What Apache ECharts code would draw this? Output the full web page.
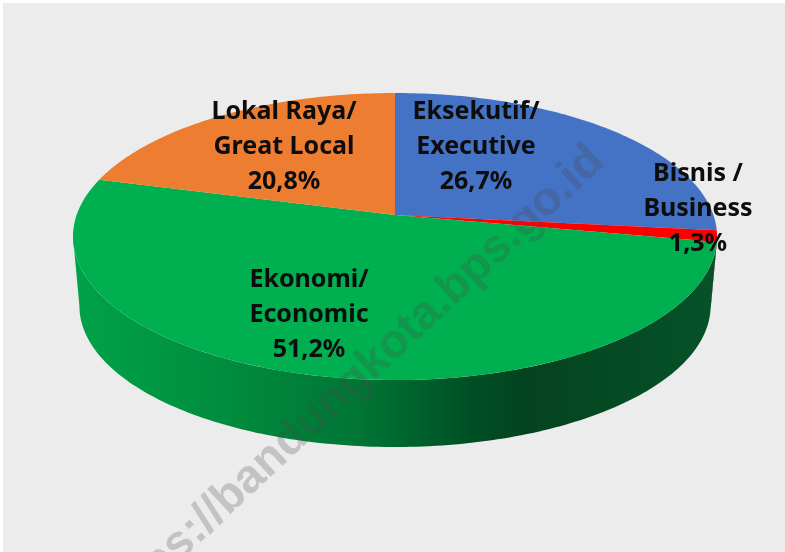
<!DOCTYPE html>
<html>
<head>
<meta charset="utf-8">
<title>Pie</title>
<script src="https://cdn.jsdelivr.net/npm/echarts@6/dist/echarts.min.js"></script>
<style>
html,body{margin:0;padding:0;background:#fff;}
#main{width:785px;height:552px;}
</style>
</head>
<body>
<div id="main"></div>
<script>
// clockwise from 12 o'clock
var categories = ['Eksekutif/', 'Bisnis /', 'Ekonomi/', 'Lokal Raya/'];
var categoriesEn = ['Executive', 'Business', 'Economic', 'Great Local'];
var shares = [26.7, 1.3, 51.2, 20.8];
var shareLabels = ['26,7%', '1,3%', '51,2%', '20,8%'];

var colors = ['#4472c4', '#ff0000', '#00b050', '#ed7d31'];
var labelCenters = [[476, 147], [698, 209], [309, 315], [284, 147]];

// perspective disc: circle seen from above, near edge bigger
var persp = 0.15;
var topDisc = {cx: 395, cy: 215, a: 318.4, b: 140.3};
var bottomDisc = {cx: 395, cy: 285, a: 312, b: 137.7};
// wall is only visible between the two silhouette angles
var wallFrom = 98.6, wallTo = 261.4;

function project(disc, deg) {
    var t = deg * Math.PI / 180;
    var u = Math.sin(t), v = -Math.cos(t);
    var s = 1 / (1 - persp * v);
    return [disc.cx + disc.a * u * s, disc.cy + disc.b * v * s];
}
function arc(disc, from, to) {
    var pts = [];
    var n = Math.max(2, Math.ceil(Math.abs(to - from)));
    for (var i = 0; i <= n; i++) {
        pts.push(project(disc, from + (to - from) * i / n));
    }
    return pts;
}
function startOf(index) {
    var sum = 0;
    for (var i = 0; i < index; i++) sum += shares[i];
    return sum;
}

function renderWall(params, api) {
    var from = startOf(params.dataIndex) * 3.6;
    var to = from + api.value(0) * 3.6;
    from = Math.max(from, wallFrom);
    to = Math.min(to, wallTo);
    if (to <= from) return {type: 'group', children: []};
    var points = arc(topDisc, from, to).concat(arc(bottomDisc, to, from));
    var fill = params.dataIndex === 2 ? {
        type: 'linear', x: 0, y: 0, x2: 1, y2: 0,
        colorStops: [
            {offset: 0, color: '#00a24a'},
            {offset: 0.2, color: '#009040'},
            {offset: 0.45, color: '#007534'},
            {offset: 0.62, color: '#004f24'},
            {offset: 0.7, color: '#04431f'},
            {offset: 1, color: '#065228'}
        ]
    } : '#a00000';
    return {type: 'polygon', shape: {points: points}, style: {fill: fill}};
}

function renderTop(params, api) {
    var from = startOf(params.dataIndex) * 3.6;
    var to = from + api.value(0) * 3.6;
    var points = [[topDisc.cx, topDisc.cy]].concat(arc(topDisc, from, to));
    return {
        type: 'polygon',
        shape: {points: points},
        style: {fill: colors[params.dataIndex]}
    };
}

function renderLabel(params, api) {
    var i = params.dataIndex;
    return {
        type: 'text',
        x: labelCenters[i][0],
        y: labelCenters[i][1],
        style: {
            text: categories[i] + '\n' + categoriesEn[i] + '\n' + shareLabels[i],
            fill: '#0d0d0d',
            font: 'bold 25px "Noto Sans", sans-serif',
            lineHeight: 35,
            align: 'center',
            verticalAlign: 'middle'
        }
    };
}

var chart = echarts.init(document.getElementById('main'), null, {renderer: 'canvas'});
var option = {
    animation: false,
    backgroundColor: '#ffffff',
    graphic: [
        {
            type: 'rect', z: -1, silent: true,
            shape: {x: 3, y: 3, width: 782, height: 549},
            style: {fill: '#ececec'}
        },
        {
            type: 'text', z: 10, silent: true,
            x: 351, y: 384, rotation: 43 * Math.PI / 180,
            style: {
                text: 'https://bandungkota.bps.go.id',
                fill: 'rgba(70,70,70,0.25)',
                font: 'bold 47px "Liberation Sans", sans-serif',
                align: 'center',
                verticalAlign: 'middle'
            }
        }
    ],
    series: [
        {type: 'custom', coordinateSystem: 'none', z: 2, renderItem: renderWall, data: shares, silent: true},
        {type: 'custom', coordinateSystem: 'none', z: 3, renderItem: renderTop, data: shares, silent: true},
        {type: 'custom', coordinateSystem: 'none', z: 20, renderItem: renderLabel, data: shares, silent: true}
    ]
};
chart.setOption(option);
</script>
</body>
</html>
